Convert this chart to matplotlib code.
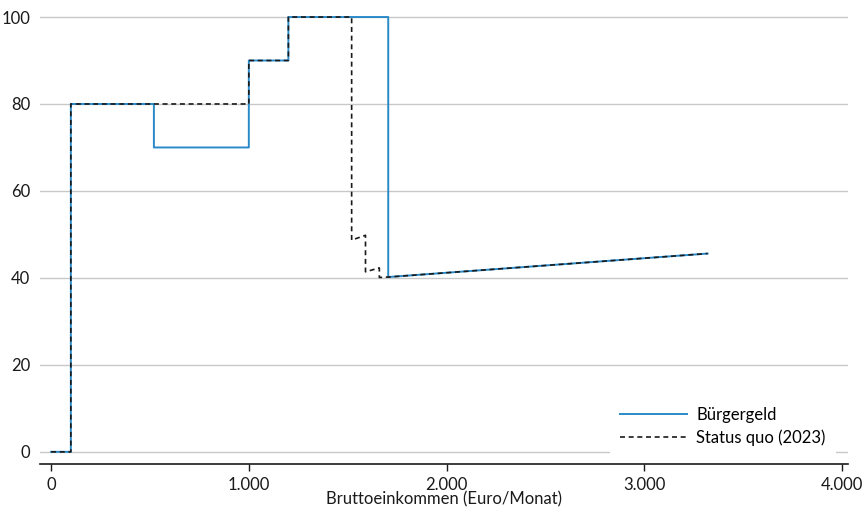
import matplotlib
matplotlib.use("Agg")
import matplotlib.pyplot as plt

plt.rcParams['font.family'] = ['Lato', 'DejaVu Sans']

# Bürgergeld: vertices of the step/line curve (income in Euro/Monat, value in %)
buerger_x = [0, 100, 100, 520, 520, 1000, 1000, 1200, 1200, 1705, 1705, 3320]
buerger_y = [0, 0, 80, 80, 70, 70, 90, 90, 100, 100, 40.2, 45.6]

# Status quo (2023)
status_x = [0, 100, 100, 1000, 1000, 1200, 1200, 1520, 1520, 1590, 1590, 1660, 1660, 1705, 3320]
status_y = [0, 0, 80, 80, 90, 90, 100, 100, 48.7, 49.8, 41.4, 42.3, 40.1, 40.2, 45.6]

x_ticks = [0, 1000, 2000, 3000, 4000]
x_labels = ["0", "1.000", "2.000", "3.000", "4.000"]
y_ticks = [0, 20, 40, 60, 80, 100]

fig = plt.figure(figsize=(8.67, 5.14), dpi=100)
ax = fig.add_axes([40/867, 50/514, 808/867, 453.5/514])

ax.plot(buerger_x, buerger_y, color="#2a8ac8", lw=1.4, label="Bürgergeld", zorder=3)
ax.plot(status_x, status_y, color="#1a1a1a", lw=1.2, ls=(0, (3, 2.2)), label="Status quo (2023)", zorder=4)

ax.set_xlim(-56, 4030)
ax.set_ylim(-2.8, 101.5)
ax.set_xticks(x_ticks)
ax.set_xticklabels(x_labels)
ax.set_yticks(y_ticks)
ax.tick_params(axis='y', length=0, labelsize=12, pad=7, colors="#1a1a1a")
ax.tick_params(axis='x', length=5, width=1, labelsize=12, colors="#1a1a1a", direction='out', pad=4)
ax.grid(axis='y', color="#c8c8c8", lw=1)
ax.set_axisbelow(True)
for s in ['top', 'right', 'left']:
    ax.spines[s].set_visible(False)
ax.spines['bottom'].set_color("#1a1a1a")
ax.spines['bottom'].set_linewidth(1.2)

ax.set_xlabel("Bruttoeinkommen (Euro/Monat)", fontsize=12, labelpad=-1, color="#1a1a1a")

leg = ax.legend(loc='lower right', bbox_to_anchor=(0.995, 0.0), fontsize=12, frameon=True,
                handlelength=4.0, handletextpad=0.55, labelspacing=0.35, borderpad=0.6)
leg.get_frame().set_facecolor('white')
leg.get_frame().set_edgecolor('none')
leg.get_frame().set_alpha(1)

fig.savefig("out.png", dpi=100)
